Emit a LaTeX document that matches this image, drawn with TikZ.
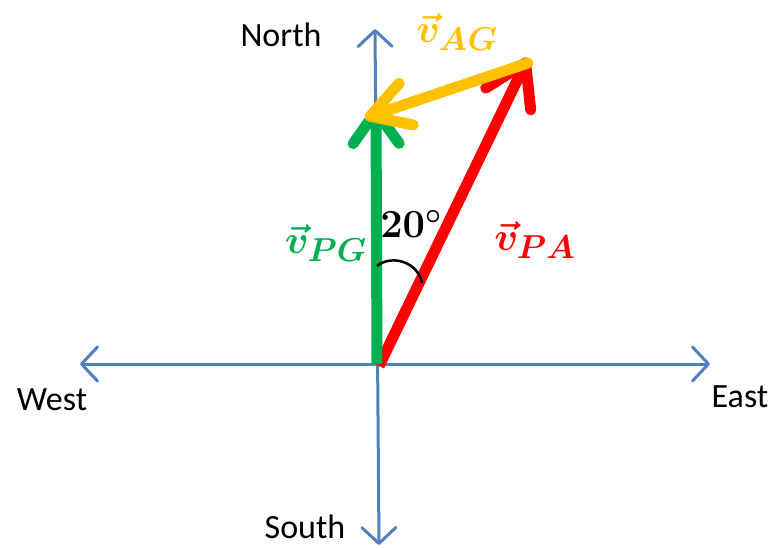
\documentclass[tikz,border=0pt]{standalone}
\usepackage{amsmath}
\usepackage{fontspec}
\setmainfont{Carlito}
\usetikzlibrary{arrows.meta}
\definecolor{axisblue}{RGB}{79,129,189}
\definecolor{vgreen}{RGB}{0,176,80}
\definecolor{vyellow}{RGB}{255,192,0}
\definecolor{vred}{RGB}{255,0,0}
\begin{document}
\begin{tikzpicture}[x=1pt,y=-1pt,
  axisline/.style={draw=axisblue, line width=3pt, line cap=round,
    {Straight Barb[length=16pt,width=34pt,round]}-{Straight Barb[length=16pt,width=34pt,round]}},
  vecline/.style={line width=11pt},
  dirlabel/.style={font=\fontsize{34}{40}\selectfont, text=black, inner sep=0pt},
  veclabel/.style={font=\Huge\boldmath, inner sep=0pt, scale=1.6}]
\useasboundingbox (0,0) rectangle (771,548);
\coordinate (O) at (377,364);
\coordinate (Wt) at (80,364);
\coordinate (Et) at (710,364);
\coordinate (Nt) at (375,29);
\coordinate (St) at (379,545);
\coordinate (Gs) at (377,364);
\coordinate (Gt) at (376,106);
\coordinate (Rs) at (379,366);
\coordinate (Rt) at (528,58);
\coordinate (Ys) at (528,63);
\coordinate (Yt) at (365,118);
% axes
\draw[axisline] (Wt) -- (Et);
\draw[axisline] (St) -- (Nt);
% vectors
\draw[vecline, draw=vred, -{Straight Barb[length=40pt,width=50pt,round]}] (Rs) -- (Rt);
\draw[vecline, draw=vgreen, -{Straight Barb[length=32pt,width=46pt,round]}] (Gs) -- (Gt);
\draw[vecline, draw=vyellow, line cap=round, -{Straight Barb[length=38pt,width=44pt,round]}] (Ys) -- (Yt);
% angle arc
\draw[line width=2.5pt, black] (377,266) .. controls (392,254) and (418,262) .. (422,283);
% labels
\node[dirlabel] (north) at (281,35) {North};
\node[dirlabel] (west) at (52,400) {West};
\node[dirlabel] (east) at (740,397) {East};
\node[dirlabel] (south) at (305,527) {South};
\node[veclabel, text=vyellow] (vag) at (457,32) {$\vec{v}_{AG}$};
\node[veclabel, text=vgreen] (vpg) at (326,243) {$\vec{v}_{PG}$};
\node[veclabel, text=vred] (vpa) at (535,240) {$\vec{v}_{PA}$};
\node[veclabel, text=black] (ang) at (411,224) {$20^{\scriptscriptstyle\circ}$};
\end{tikzpicture}
\end{document}
